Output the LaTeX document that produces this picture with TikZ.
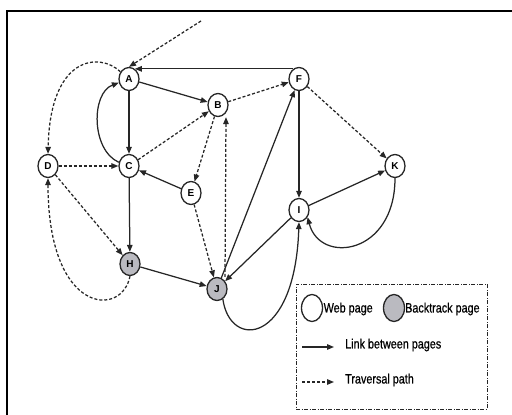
\documentclass[tikz,border=0pt]{standalone}
\usepackage{fontspec}
\setmainfont{Liberation Sans}
\newfontfamily\legendfont[FakeStretch=0.8,FakeBold=0.6]{Liberation Sans}
\usetikzlibrary{arrows.meta,shapes.geometric}
\definecolor{backgray}{RGB}{186,186,192}
\begin{document}
\begin{tikzpicture}[x=1pt,y=1pt,
  page/.style={ellipse,draw=black!85,line width=1.3pt,fill=white,
    minimum width=20pt,minimum height=23pt,inner sep=0pt,
    font=\fontsize{10}{10}\selectfont\bfseries},
  backtrack/.style={page,fill=backgray},
  link/.style={draw=black!85,line width=1.25pt,-{Triangle[length=7pt,width=5.5pt]}},
  trav/.style={link,dash pattern=on 3pt off 2pt},
  legendtext/.style={font=\legendfont\fontsize{13.5}{14}\selectfont,inner sep=0pt,anchor=west},
  legendbox/.style={draw=black!85,line width=0.9pt,
    dash pattern=on 4pt off 1.5pt on 1pt off 1.5pt,
    minimum width=191pt,minimum height=125pt,inner sep=0pt}]
\useasboundingbox (0,-415) rectangle (512,0);

% outer frame (only its top and left sides fall on the page)
\draw[line width=2.8pt] (7,-420) -- (7,-11) -- (520,-11);

% web pages
\node[page] (A) at (129,-79) {A};
\node[page] (B) at (218,-105) {B};
\node[page] (C) at (129,-166) {C};
\node[page] (D) at (48,-166) {D};
\node[page] (E) at (191,-193) {E};
\node[page] (F) at (299,-79) {F};
\node[page] (K) at (395,-166) {K};
\node[page] (I) at (299,-210) {I};
\node[backtrack] (H) at (130,-264) {H};
\node[backtrack] (J) at (217,-289) {J};
\coordinate (start) at (201,-21);

% links between pages
\draw[link] (F.120) -- (A.60);
\draw[link] (A) -- (B);
\draw[link] (A) -- (C);
\draw[link] (C.160) .. controls (91,-150) and (91,-93) .. (A.200);
\draw[link] (E) -- (C);
\draw[link] (C) -- (H);
\draw[link] (H) -- (J);
\draw[link] (J) -- (F);
\draw[link] (F) -- (I);
\draw[link] (I) -- (J);
\draw[link] (I) -- (K);
\draw[link] (K.south) .. controls (395,-255) and (320,-265) .. (I.-40);
\draw[link] (J.-60) .. controls (230,-350) and (295,-345) .. (I.south);

% traversal path
\draw[trav] (start) -- (A.north);
\draw[trav] (A.140) .. controls (100,-52) and (50,-55) .. (D.north);
\draw[trav] (D) -- (C);
\draw[trav] (D) -- (H);
\draw[trav] (H.south) .. controls (122,-318) and (48,-315) .. (D.south);
\draw[trav] (C) -- (B);
\draw[trav] (B) -- (E);
\draw[trav] (E) -- (J);
\draw[trav] ([xshift=8pt]J.north) -- ([xshift=8pt]B.south);
\draw[trav] (B) -- (F);
\draw[trav] (F) -- (K);

% legend
\node[legendbox] (legend) at (391.5,-346.5) {};
\node[page,minimum width=21pt,minimum height=27pt] (lweb) at (312,-308) {};
\node[legendtext] (tweb) at (323.5,-309) {Web page};
\node[backtrack,minimum width=21pt,minimum height=27pt] (lback) at (394,-308) {};
\node[legendtext] (tback) at (405,-309) {Backtrack page};
\coordinate (l1s) at (302,-347);
\coordinate (l1e) at (334,-347);
\draw[link] (l1s) -- (l1e);
\node[legendtext] (tlink) at (345,-345) {Link between pages};
\coordinate (l2s) at (302,-382);
\coordinate (l2e) at (334,-382);
\draw[trav] (l2s) -- (l2e);
\node[legendtext] (ttrav) at (345,-380) {Traversal path};
\end{tikzpicture}
\end{document}
